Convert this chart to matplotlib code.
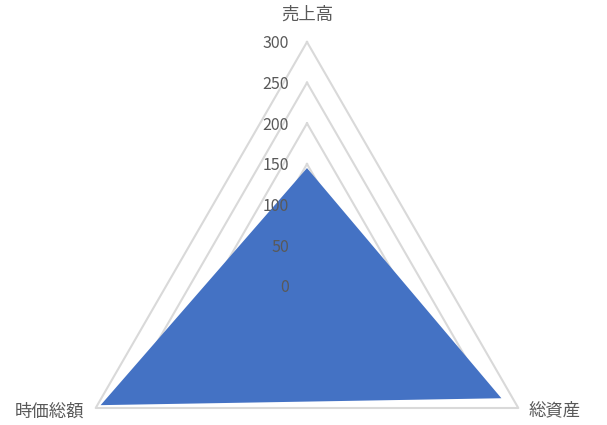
import numpy as np
import matplotlib
matplotlib.use('Agg')
import matplotlib.pyplot as plt
from matplotlib.transforms import offset_copy

plt.rcParams['font.family'] = ['Noto Sans CJK JP', 'DejaVu Sans']

# data
categories = ['売上高', '総資産', '時価総額']
values = [145, 276, 293]
rticks = [0, 50, 100, 150, 200, 250, 300]

grid_col = '#d9d9d9'
text_col = '#595959'
fill_col = '#4472C4'

fig = plt.figure(figsize=(6.07, 4.25), dpi=100)
# centre at (307, 286) px, radius 244 px
ax = fig.add_axes([63 / 607, (425 - 286 - 244) / 425, 488 / 607, 488 / 425], projection='polar')
ax.set_theta_offset(np.pi / 2)
ax.set_theta_direction(-1)
ax.set_ylim(0, 300)
ax.axis('off')

n = len(categories)
theta = np.arange(n) * 2 * np.pi / n
theta_c = np.append(theta, theta[0])

# polygon gridlines
for r in rticks[1:]:
    ax.plot(theta_c, [r] * (n + 1), color=grid_col, lw=1.5, zorder=1, clip_on=False)

vals_c = values + [values[0]]
ax.fill(theta_c, vals_c, color=fill_col, lw=0, zorder=2, clip_on=False)

# radial tick labels
lab_tr = offset_copy(ax.transData, fig=fig, x=-18, y=-2, units='dots')
for r in rticks:
    ax.text(0, r, str(r), transform=lab_tr, ha='right', va='center',
            fontsize=11.5, color=text_col, zorder=5, clip_on=False)

# category labels
offsets = [(0, 27, 'center', 'center'), (10, -2, 'left', 'center'), (-11, -4, 'right', 'center')]
for t, name, (dx, dy, ha, va) in zip(theta, categories, offsets):
    tr = offset_copy(ax.transData, fig=fig, x=dx, y=dy, units='dots')
    ax.text(t, 300, name, transform=tr, ha=ha, va=va, fontsize=12.5,
            color=text_col, clip_on=False)

fig.savefig('out.png', dpi=100)
